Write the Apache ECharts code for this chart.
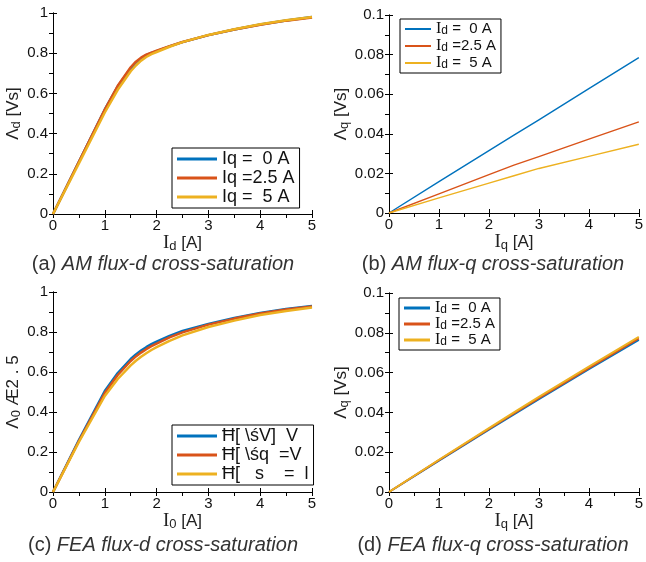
<!DOCTYPE html>
<html>
<head>
<meta charset="utf-8">
<script src="https://cdn.jsdelivr.net/npm/echarts@6/dist/echarts.min.js"></script>
<style>
  html, body { margin: 0; padding: 0; background: #fff; }
  #chart { width: 646px; height: 562px; }
</style>
</head>
<body>
<div id="chart"></div>
<script>
// x samples (current in A)
var xD = [0, 0.5, 1, 1.25, 1.5, 1.6, 1.7, 1.8, 1.9, 2, 2.25, 2.5, 3, 3.5, 4, 4.5, 5];
var xQ = [0, 1, 2, 2.5, 3, 4, 5];

// (a) AM flux-d
var amD0  = [0, 0.26, 0.52, 0.635, 0.725, 0.752, 0.774, 0.79, 0.801, 0.81, 0.834, 0.855, 0.89, 0.918, 0.943, 0.963, 0.98];
var amD25 = [0, 0.26, 0.52, 0.638, 0.73, 0.758, 0.778, 0.793, 0.803, 0.812, 0.835, 0.856, 0.89, 0.918, 0.942, 0.962, 0.978];
var amD5  = [0, 0.252, 0.505, 0.618, 0.71, 0.739, 0.763, 0.781, 0.795, 0.806, 0.832, 0.855, 0.891, 0.919, 0.944, 0.964, 0.98];
// (b) AM flux-q
var amQ0  = [0, 0.0158, 0.0315, 0.0393, 0.047, 0.0628, 0.0785];
var amQ25 = [0, 0.0097, 0.0194, 0.0242, 0.0285, 0.0373, 0.046];
var amQ5  = [0, 0.0076, 0.0151, 0.0188, 0.0225, 0.0286, 0.0347];
// (c) FEA flux-d
var feD0  = [0, 0.26, 0.505, 0.595, 0.665, 0.688, 0.707, 0.724, 0.739, 0.752, 0.781, 0.805, 0.84, 0.87, 0.895, 0.915, 0.93];
var feD25 = [0, 0.255, 0.495, 0.585, 0.655, 0.678, 0.697, 0.714, 0.729, 0.742, 0.773, 0.798, 0.837, 0.867, 0.892, 0.912, 0.928];
var feD5  = [0, 0.25, 0.48, 0.565, 0.633, 0.656, 0.676, 0.694, 0.71, 0.724, 0.756, 0.783, 0.825, 0.857, 0.885, 0.905, 0.922];
// (d) FEA flux-q
var feQ0  = [0, 0.0158, 0.0313, 0.039, 0.0466, 0.0617, 0.0765];
var feQ25 = [0, 0.016, 0.0317, 0.0395, 0.0472, 0.0623, 0.0772];
var feQ5  = [0, 0.0162, 0.0321, 0.04, 0.0478, 0.063, 0.078];

var namesA = ['Iq =  0 A', 'Iq =2.5 A', 'Iq =  5 A'];
var namesQ = ['Id =  0 A', 'Id =2.5 A', 'Id =  5 A'];
var namesC = ['Ħ[ \\śV]  V', 'Ħ[ \\śq  =V', 'Ħ[   s    =  l'];
var captions = [
  ['(a) ', 'AM flux-d cross-saturation'],
  ['(b) ', 'AM flux-q cross-saturation'],
  ['(c) ', 'FEA flux-d cross-saturation'],
  ['(d) ', 'FEA flux-q cross-saturation']
];

var colors = ['#0072BD', '#D95319', '#EDB120'];
var font = 'Liberation Sans';

function zip(xs, ys) {
  return xs.map(function (x, i) { return [x, ys[i]]; });
}

var grids = [
  { left: 53, top: 13, width: 259, height: 201 },
  { left: 389, top: 15, width: 256, height: 198 },
  { left: 53, top: 292, width: 259, height: 200 },
  { left: 389, top: 293, width: 256, height: 199 }
];

var nameRich = {
  a: { fontFamily: 'Liberation Serif', fontSize: 19, lineHeight: 20, color: '#222' },
  n: { fontFamily: font, fontSize: 17, lineHeight: 20, color: '#222' },
  s: { fontFamily: font, fontSize: 13, lineHeight: 12, color: '#222', verticalAlign: 'bottom' }
};
var legRich = {
  a: { fontFamily: 'Liberation Serif', fontSize: 16, lineHeight: 16, color: '#111' },
  n: { fontFamily: font, fontSize: 15, lineHeight: 16, color: '#111' },
  s: { fontFamily: font, fontSize: 12, lineHeight: 10, color: '#111', verticalAlign: 'bottom' }
};

var xNames = ['{a|I}{s|d}{n| [A]}', '{a|I}{s|q}{n| [A]}', '{a|I}{s|0}{n| [A]}', '{a|I}{s|q}{n| [A]}'];
var yNames = ['{n|Λ}{s|d}{n| [Vs]}', '{n|Λ}{s|q}{n| [Vs]}', '{n|Λ}{s|0}{n| Æ2 . 5}', '{n|Λ}{s|q}{n| [Vs]}'];

var xAxes = [], yAxes = [];
grids.forEach(function (g, p) {
  var isQ = (p % 2 === 1);
  xAxes.push({
    type: 'value', gridIndex: p, min: 0, max: 5, interval: 1,
    name: xNames[p], nameLocation: 'middle', nameGap: 17,
    nameTextStyle: { rich: nameRich },
    axisLine: { lineStyle: { color: '#000', width: 1 } },
    axisTick: { inside: true, length: 4, lineStyle: { color: '#000' } },
    axisLabel: { fontFamily: font, fontSize: 15, color: '#111', margin: 4, showMaxLabel: true },
    splitLine: { show: false }
  });
  xAxes.push({
    type: 'value', gridIndex: p, position: 'top', min: 0, max: 5, interval: 0.5,
    axisLine: { lineStyle: { color: '#000', width: 1 } },
    axisTick: { inside: true, length: 4, lineStyle: { color: '#000' } },
    axisLabel: { show: false }, splitLine: { show: false }
  });
  yAxes.push({
    type: 'value', gridIndex: p, min: 0, max: isQ ? 0.1 : 1, interval: isQ ? 0.02 : 0.2,
    name: yNames[p], nameLocation: 'middle', nameGap: isQ ? 34 : 28, nameRotate: 90,
    nameTextStyle: { rich: nameRich },
    axisLine: { lineStyle: { color: '#000', width: 1 } },
    axisTick: { inside: true, length: 4, lineStyle: { color: '#000' } },
    axisLabel: { fontFamily: font, fontSize: 15, color: '#111', margin: 5 },
    splitLine: { show: false }
  });
  yAxes.push({
    type: 'value', gridIndex: p, position: 'right', min: 0, max: isQ ? 0.1 : 1, interval: isQ ? 0.01 : 0.1,
    axisLine: { lineStyle: { color: '#000', width: 1 } },
    axisTick: { inside: true, length: 4, lineStyle: { color: '#000' } },
    axisLabel: { show: false }, splitLine: { show: false }
  });
});

var panelData = [
  { xs: xD, ys: [amD0, amD25, amD5], names: namesA, w: 2.5 },
  { xs: xQ, ys: [amQ0, amQ25, amQ5], names: namesQ, w: 1.4 },
  { xs: xD, ys: [feD0, feD25, feD5], names: namesC, w: 2.5 },
  { xs: xQ, ys: [feQ0, feQ25, feQ5], names: namesQ, w: 2 }
];

var series = [];
panelData.forEach(function (pd, p) {
  pd.ys.forEach(function (ys, k) {
    series.push({
      type: 'line', name: pd.names[k],
      xAxisIndex: 2 * p, yAxisIndex: 2 * p,
      data: zip(pd.xs, ys),
      showSymbol: false, symbol: 'none', smooth: false,
      lineStyle: { color: colors[k], width: pd.w, join: 'round' },
      itemStyle: { color: colors[k] },
      animation: false, z: 3 + k
    });
  });
});

function legendBox(names, left, top, lineW, itemH, gap, fmt, fs) {
  var l = {
    orient: 'vertical', left: left, top: top, data: names,
    itemWidth: lineW, itemHeight: itemH, itemGap: gap,
    borderColor: '#000', borderWidth: 1, backgroundColor: '#fff',
    padding: [2, 5, 2, 5], icon: 'rect',
    selectedMode: false,
    textStyle: { fontFamily: font, fontSize: fs, lineHeight: fs, color: '#111', rich: legRich }
  };
  if (fmt) l.formatter = fmt;
  return l;
}

var subFmt = function (name) {
  return '{a|I}{s|d}{n|' + name.slice(2) + '}';
};

var legends = [
  legendBox(namesA, 172, 148, 40, 3, 1, null, 18),
  legendBox(namesQ, 400, 19, 26, 2, 1, subFmt, 16),
  legendBox(namesC, 172, 425, 40, 3, 1, null, 18),
  legendBox(namesQ, 399, 298, 26, 3, 0, subFmt, 16)
];

var capPos = [[163, 264], [493, 264], [163, 545], [493, 545]];
var graphics = captions.map(function (c, i) {
  return {
    type: 'text', x: capPos[i][0], y: capPos[i][1],
    style: {
      text: '{p|' + c[0] + '}{i|' + c[1] + '}',
      align: 'center', verticalAlign: 'middle',
      rich: {
        p: { fontFamily: font, fontSize: 20, fill: '#333' },
        i: { fontFamily: font, fontSize: 20, fontStyle: 'italic', fill: '#333' }
      }
    }
  };
});

var myChart = echarts.init(document.getElementById('chart'));
myChart.setOption({
  animation: false,
  color: colors,
  grid: grids,
  xAxis: xAxes,
  yAxis: yAxes,
  legend: legends,
  series: series,
  graphic: graphics
});
</script>
</body>
</html>
